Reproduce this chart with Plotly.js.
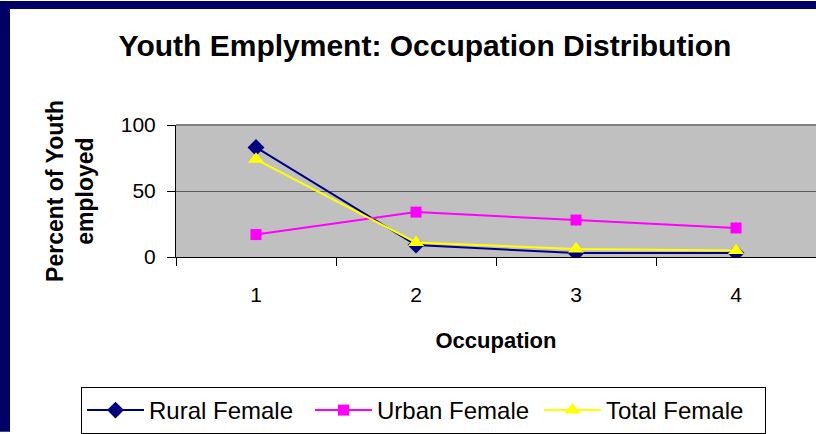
<!DOCTYPE html>
<html>
<head>
<meta charset="utf-8">
<script src="https://cdn.plot.ly/plotly-3.0.1.min.js"></script>
<style>
  html, body { margin: 0; padding: 0; background: #ffffff; }
  #chart { width: 816px; height: 434px; }
</style>
</head>
<body>
<div id="chart"></div>
<script>
const categories = ["1", "2", "3", "4"];
const ruralFemale = [83, 9, 3, 3];
const urbanFemale = [17, 34, 28, 22];
const totalFemale = [74, 11, 6, 5];
const seriesNames = ["Rural Female", "Urban Female", "Total Female"];
const yTickVals = [0, 50, 100];
const yTickText = ["0", "50", "100"];

const FONT = "Liberation Sans, Arial, Helvetica, sans-serif";

const traces = [
  {
    x: categories, y: ruralFemale, name: seriesNames[0], type: "scatter", mode: "lines+markers",
    line: { color: "#000080", width: 2 },
    marker: { symbol: "diamond", size: 13, color: "#000080" },
    legendwidth: 156
  },
  {
    x: categories, y: urbanFemale, name: seriesNames[1], type: "scatter", mode: "lines+markers",
    line: { color: "#FF00FF", width: 2 },
    marker: { symbol: "square", size: 11, color: "#FF00FF" },
    legendwidth: 157
  },
  {
    x: categories, y: totalFemale, name: seriesNames[2], type: "scatter", mode: "lines+markers",
    line: { color: "#FFFF00", width: 2 },
    marker: { symbol: "triangle-up", size: 14, color: "#FFFF00" },
    legendwidth: 154
  }
];

const layout = {
  width: 816, height: 434,
  margin: { l: 176, r: 0, t: 125, b: 176, pad: 0 },
  paper_bgcolor: "#ffffff",
  plot_bgcolor: "#C0C0C0",
  font: { family: FONT, color: "#000000", size: 20 },
  title: {
    text: "Youth Emplyment: Occupation Distribution",
    font: { family: FONT, size: 30, weight: "bold", color: "#000000" },
    xref: "container", x: 425 / 816, xanchor: "center",
    yref: "container", y: 1 - 45 / 434, yanchor: "middle"
  },
  xaxis: {
    type: "category",
    range: [-0.5, 3.5],
    tickson: "boundaries",
    ticks: "outside", ticklen: 8, tickcolor: "#000000", tickwidth: 1,
    showline: true, linecolor: "#000000", linewidth: 1,
    showgrid: false, zeroline: false,
    tickfont: { family: FONT, size: 21, color: "#000000" },
    ticklabelstandoff: 19,
    title: { text: "Occupation", font: { family: FONT, size: 22, weight: "bold" }, standoff: 27 },
    automargin: false, fixedrange: true
  },
  yaxis: {
    range: [0, 100],
    tickvals: yTickVals, ticktext: yTickText,
    ticks: "outside", ticklen: 8, tickcolor: "#000000", tickwidth: 1,
    showline: true, linecolor: "#000000", linewidth: 1,
    showgrid: true, gridcolor: "#5a5a5a", gridwidth: 1,
    zeroline: false,
    tickfont: { family: FONT, size: 21, color: "#000000" },
    ticklabelstandoff: 7,
    title: { text: "Percent of Youth<br>employed", font: { family: FONT, size: 23, weight: "bold" }, standoff: 20 },
    automargin: false, fixedrange: true
  },
  showlegend: true,
  legend: {
    orientation: "h",
    xref: "paper", yref: "paper",
    x: (81 - 176) / 640, xanchor: "left",
    y: (258 - 388) / 133, yanchor: "top",
    bgcolor: "#ffffff", bordercolor: "#000000", borderwidth: 1,
    font: { family: FONT, size: 24, color: "#000000" },
    itemwidth: 57,
    traceorder: "normal"
  },
  shapes: [
    { type: "rect", xref: "paper", yref: "paper", x0: (0 - 176) / 640, x1: (10 - 176) / 640, y0: (258 - 434) / 133, y1: (258 - 0) / 133,
      fillcolor: "#000066", line: { width: 0 }, layer: "above" },
    { type: "rect", xref: "paper", yref: "paper", x0: (0 - 176) / 640, x1: 1.01, y0: (258 - 8) / 133, y1: (258 - 0) / 133,
      fillcolor: "#000066", line: { width: 0 }, layer: "above" },
    { type: "line", xref: "paper", yref: "paper", x0: 0, x1: 1, y0: 1, y1: 1,
      line: { color: "#808080", width: 2 }, layer: "above" }
  ]
};

Plotly.newPlot("chart", traces, layout, { displayModeBar: false, staticPlot: true });
</script>
</body>
</html>
